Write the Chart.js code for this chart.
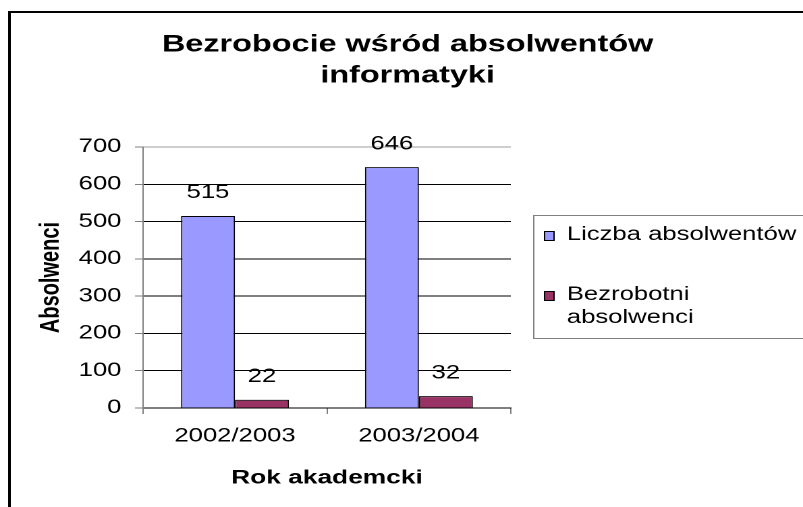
<!DOCTYPE html>
<html>
<head>
<meta charset="utf-8">
<script src="https://cdn.jsdelivr.net/npm/chart.js@4"></script>
<style>
  html, body { margin: 0; padding: 0; background: #fff; overflow: hidden; }
  /* the original picture is stretched sideways, so the whole chart is too */
  #wrap { width: 595px; height: 507px; transform: scaleX(1.3496); transform-origin: 0 0; }
</style>
</head>
<body>
<div id="wrap"><canvas id="bezrobocie" width="595" height="507"></canvas></div>
<script>
const years = ["2002/2003", "2003/2004"];
const graduates = [515, 646];
const unemployed = [22, 32];
const seriesNames = ["Liczba absolwentów", "Bezrobotni absolwenci"];
const yTicks = [0, 100, 200, 300, 400, 500, 600, 700];
const chartTitle = ["Bezrobocie wśród absolwentów", "informatyki"];
const xTitle = "Rok akademcki";
const yTitle = "Absolwenci";

const FONT = "'Liberation Sans', Arial, sans-serif";
Chart.defaults.font.family = FONT;
Chart.defaults.color = "#000";

function wrapText(ctx, text, maxWidth) {
  const words = text.split(" ");
  const lines = [];
  let line = "";
  words.forEach(function (w) {
    const test = line ? line + " " + w : w;
    if (line && ctx.measureText(test).width > maxWidth) {
      lines.push(line);
      line = w;
    } else {
      line = test;
    }
  });
  lines.push(line);
  return lines;
}

// white page, outer frame and the two-line title
const frame = {
  id: "frame",
  beforeDraw(chart) {
    const ctx = chart.ctx;
    ctx.save();
    ctx.fillStyle = "#fff";
    ctx.fillRect(0, 0, chart.width, chart.height);
    ctx.strokeStyle = "#000";
    ctx.lineWidth = 2;
    ctx.strokeRect(7, 12, chart.width + 20, chart.height + 20);
    ctx.restore();
  },
  afterDraw(chart) {
    const ctx = chart.ctx;
    ctx.save();
    ctx.font = "bold 24px " + FONT;
    ctx.textAlign = "center";
    ctx.textBaseline = "middle";
    ctx.fillStyle = "#000";
    chartTitle.forEach(function (line, i) {
      ctx.fillText(line, 302, 45 + i * 31);
    });
    ctx.restore();
  },
};

// numbers above the bars
const valueLabels = {
  id: "valueLabels",
  afterDatasetsDraw(chart) {
    const ctx = chart.ctx;
    ctx.save();
    ctx.font = "19px " + FONT;
    ctx.textAlign = "center";
    ctx.textBaseline = "middle";
    ctx.fillStyle = "#000";
    chart.data.datasets.forEach(function (ds, di) {
      chart.getDatasetMeta(di).data.forEach(function (bar, i) {
        ctx.fillText(ds.data[i], bar.x, bar.y - 23);
      });
    });
    ctx.restore();
  },
};

// boxed legend on the right, labels wrap like in Excel
const boxLegend = {
  id: "boxLegend",
  afterDraw(chart) {
    const ctx = chart.ctx;
    ctx.save();
    ctx.strokeStyle = "#808080";
    ctx.lineWidth = 1;
    ctx.strokeRect(395.5, 215.5, 240, 123);
    ctx.font = "19px " + FONT;
    ctx.textBaseline = "middle";
    let y = 235;
    chart.data.datasets.forEach(function (ds) {
      ctx.fillStyle = ds.backgroundColor;
      ctx.fillRect(403, y - 4, 8, 10);
      ctx.strokeStyle = "#000";
      ctx.strokeRect(403.5, y - 3.5, 7, 9);
      ctx.fillStyle = "#000";
      wrapText(ctx, ds.label, 174).forEach(function (line, i) {
        ctx.fillText(line, 420, y + i * 23);
      });
      y += 60;
    });
    ctx.restore();
  },
};

const canvas = document.getElementById("bezrobocie");
new Chart(canvas, {
  type: "bar",
  data: {
    labels: years,
    datasets: [
      {
        label: seriesNames[0],
        data: graduates,
        backgroundColor: "#9999ff",
        borderColor: "#000",
        borderWidth: 1,
      },
      {
        label: seriesNames[1],
        data: unemployed,
        backgroundColor: "#993366",
        borderColor: "#000",
        borderWidth: 1,
      },
    ],
  },
  options: {
    responsive: false,
    animation: false,
    devicePixelRatio: 2,
    categoryPercentage: 0.587,
    barPercentage: 1.0,
    layout: {
      padding: { left: 10, right: 216.5, top: 147, bottom: 0 },
    },
    scales: {
      x: {
        afterFit: function (scale) {
          scale.height = 99;
        },
        grid: {
          display: true,
          drawOnChartArea: false,
          drawTicks: true,
          tickLength: 6,
          tickColor: "#808080",
          offset: true,
        },
        border: { color: "#000", width: 1 },
        ticks: { font: { size: 19 }, padding: 11, color: "#000" },
        title: {
          display: true,
          text: xTitle,
          font: { size: 19.5, weight: "bold" },
          padding: { top: 0, bottom: 17 },
          color: "#000",
        },
      },
      y: {
        min: yTicks[0],
        max: yTicks[yTicks.length - 1],
        afterFit: function (scale) {
          scale.width = 96;
        },
        ticks: {
          stepSize: yTicks[1] - yTicks[0],
          font: { size: 19 },
          padding: 10,
          color: "#000",
        },
        grid: {
          color: function (c) {
            return c.tick && c.tick.value === yTicks[yTicks.length - 1] ? "#a0a0a0" : "#000";
          },
          tickColor: "#808080",
          tickLength: 6,
        },
        border: { color: "#808080", width: 1 },
        title: {
          display: true,
          text: yTitle,
          font: { size: 20, weight: "bold" },
          padding: { top: 16, bottom: 0 },
          color: "#000",
        },
      },
    },
    plugins: {
      legend: { display: false },
      title: { display: false },
      tooltip: { enabled: false },
    },
  },
  plugins: [frame, valueLabels, boxLegend],
});
</script>
</body>
</html>
